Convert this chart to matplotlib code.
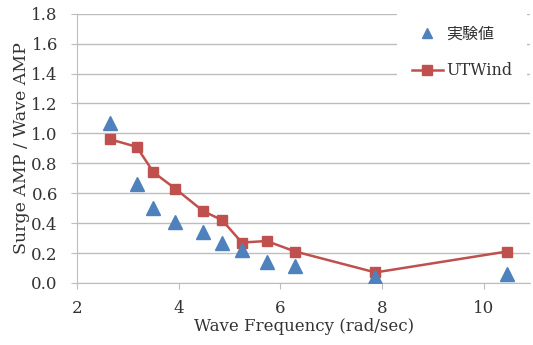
import matplotlib.pyplot as plt

plt.rcParams["font.family"] = ["DejaVu Serif", "Noto Sans CJK JP"]

# wave frequency (rad/sec)
freq = [2.65, 3.17, 3.5, 3.93, 4.48, 4.85, 5.24, 5.73, 6.29, 7.87, 10.46]
# experiment (実験値)
exp_amp = [1.07, 0.66, 0.50, 0.41, 0.34, 0.27, 0.22, 0.14, 0.11, 0.04, 0.06]
# UTWind simulation
utwind_amp = [0.96, 0.91, 0.74, 0.63, 0.48, 0.42, 0.27, 0.28, 0.21, 0.07, 0.21]

yticks = [0.0, 0.2, 0.4, 0.6, 0.8, 1.0, 1.2, 1.4, 1.6, 1.8]
xticks = [2, 4, 6, 8, 10]

fig = plt.figure(figsize=(5.33, 3.45), dpi=100)
ax = fig.add_axes([0.145, 0.18, 0.85, 0.78])

ax.plot(freq, utwind_amp, "s-", color="#C0504D", lw=1.8, ms=7.5, label="UTWind", zorder=3)
ax.plot(freq, exp_amp, "^", color="#4F81BD", ms=10, ls="none", label="実験値", zorder=4)

ax.set_xlim(2, 10.92)
ax.set_ylim(0, 1.8)
ax.set_xticks(xticks)
ax.set_yticks(yticks)
ax.set_yticklabels([f"{v:.1f}" for v in yticks])
ax.yaxis.grid(True, color="#BDBDBD", lw=1)
ax.set_axisbelow(True)

for s in ["top", "right"]:
    ax.spines[s].set_visible(False)
for s in ["left", "bottom"]:
    ax.spines[s].set_color("#BDBDBD")
ax.tick_params(colors="#BDBDBD", labelcolor="#333333", labelsize=12, length=4)
ax.tick_params(axis="y", pad=10)
ax.tick_params(axis="x", pad=8)

ax.set_xlabel("Wave Frequency (rad/sec)", fontsize=12, color="#333333", labelpad=1)
ax.set_ylabel("Surge AMP / Wave AMP", fontsize=12.5, color="#333333", labelpad=1)

h, l = ax.get_legend_handles_labels()
leg = ax.legend(h[::-1], l[::-1], loc="upper right", bbox_to_anchor=(1.0, 1.02),
                frameon=True, fancybox=False, edgecolor="none", framealpha=1,
                fontsize=11.5, handlelength=2.0, handletextpad=0.2,
                labelspacing=1.2, borderpad=0.9, borderaxespad=0.2)
for t in leg.get_texts():
    t.set_color("#333333")
leg.legend_handles[0].set_markersize(7)
leg.legend_handles[1].set_markersize(7)
leg.get_texts()[0].set_family(["Noto Sans CJK JP", "DejaVu Sans"])

fig.savefig("out.png", dpi=100)
